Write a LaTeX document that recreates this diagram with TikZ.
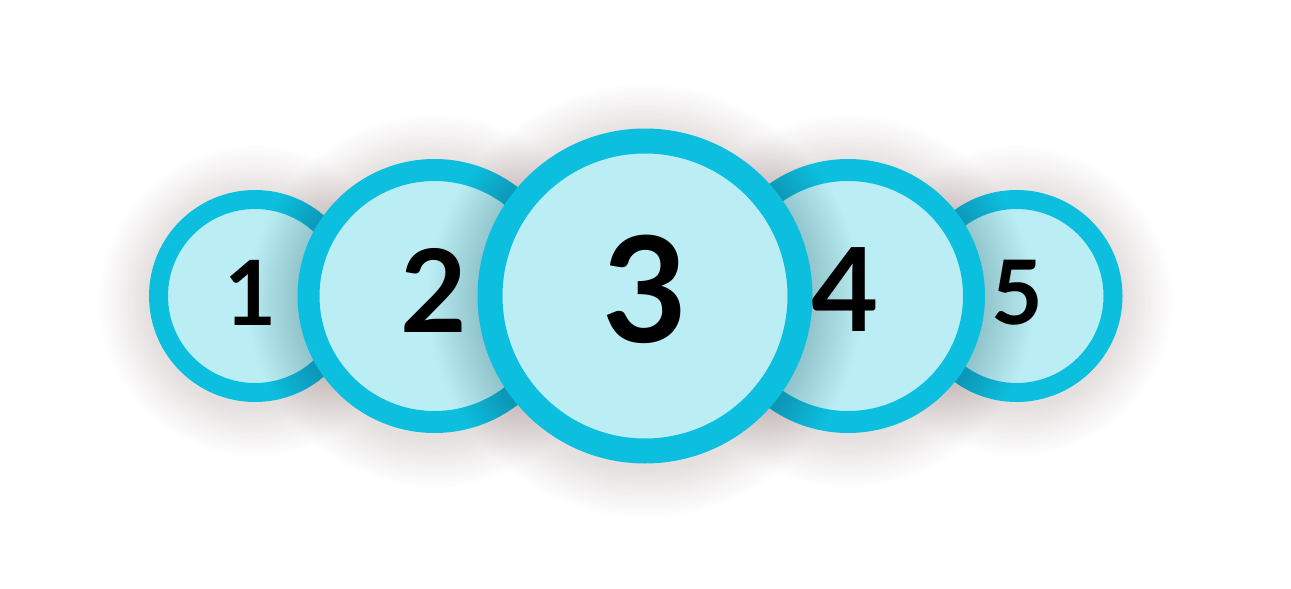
\documentclass[tikz,border=0pt]{standalone}
\usepackage{fontspec}
\setmainfont{Lato}
\definecolor{ringblue}{RGB}{13,191,223}
\definecolor{discfill}{RGB}{187,237,245}
\definecolor{shadowtint}{RGB}{90,55,55}
\tikzset{
  disc/.style={fill=discfill, draw=ringblue},
  digit/.style={inner sep=0pt, font=\bfseries\fontsize{#1pt}{#1pt}\selectfont},
}
% soft shadow: stacked translucent discs
\newcommand{\discshadow}[3]{%
  \foreach \k in {0,...,39}
    \fill[shadowtint, opacity=0.0036] (#1,#2+5) circle ({#3+50-1.25*\k});
}

\begin{document}
\begin{tikzpicture}[x=1pt, y=-1pt]
  \useasboundingbox (0,0) rectangle (1291,589);
  % small outer discs
  \discshadow{255}{296}{106}
  \draw[disc, line width=19pt] (255,296) circle (96.5);
  \node[digit=90] (n1) at (251,292.5) {1};
  \discshadow{1016.5}{296}{106}
  \draw[disc, line width=19pt] (1016.5,296) circle (96.5);
  \node[digit=89] (n5) at (1017,292.5) {5};
  % middle discs
  \discshadow{434.5}{296}{137}
  \draw[disc, line width=22pt] (434.5,296) circle (126);
  \node[digit=115] (n2) at (434,290) {2};
  \discshadow{848}{296}{137}
  \draw[disc, line width=22pt] (848,296) circle (126);
  \node[digit=116] (n4) at (845,290) {4};
  % front disc
  \discshadow{645}{296}{167.5}
  \draw[disc, line width=25pt] (645,296) circle (155);
  \node[digit=147] (n3) at (645.3,289) {3};
\end{tikzpicture}
\end{document}
